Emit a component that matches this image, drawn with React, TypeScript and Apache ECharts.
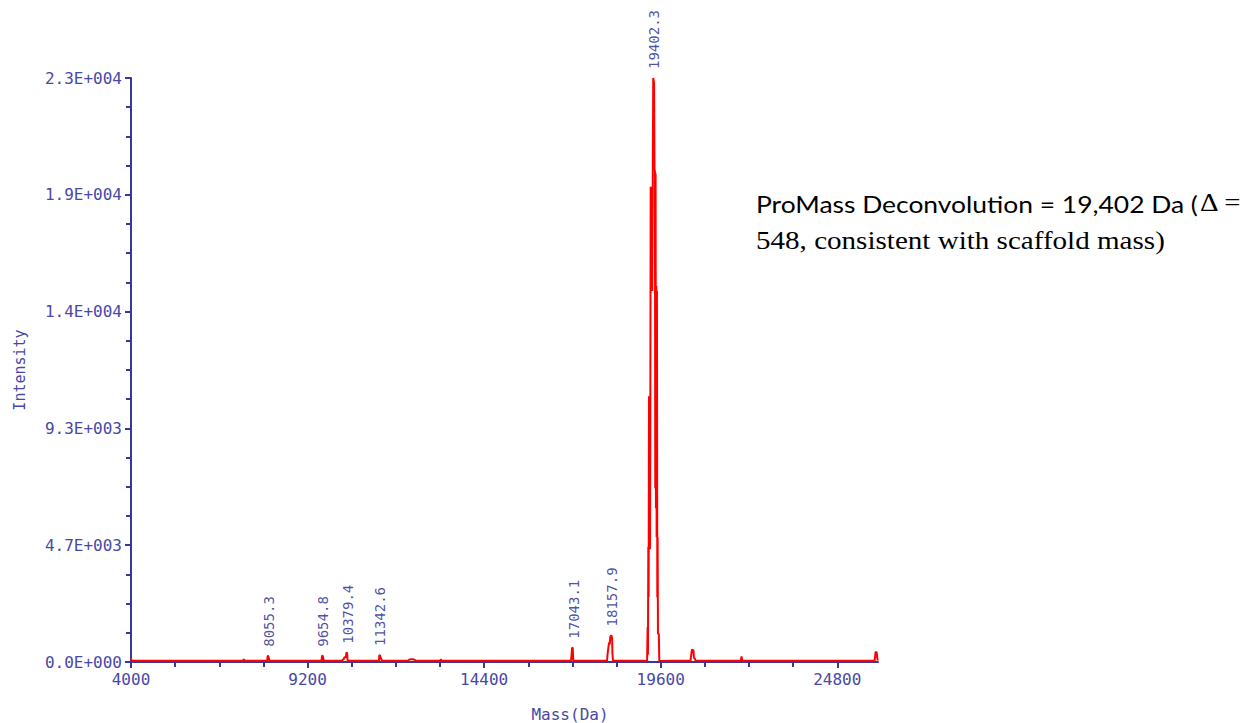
import React, { useEffect, useRef } from 'react';
import * as echarts from 'echarts';

// ---- data ----
const xTickLabels = [4000, 9200, 14400, 19600, 24800];
const xMinorStep = 1300;
const yMax = 23300;
const yInterval = 4660;

const lowMassProfile: [number, number][] = [
  [4000, 150], [4015, 50], [4400, 45], [5000, 50], [5600, 45], [6200, 50], [6800, 45],
  [7300, 50], [7320, 110], [7340, 50], [7800, 45],
  [8010, 50], [8025, 230], [8040, 250], [8060, 245], [8075, 60], [8090, 50],
  [8700, 45], [9300, 50],
  [9610, 50], [9625, 240], [9645, 250], [9660, 170], [9675, 50],
  [10200, 50], [10260, 110], [10290, 190], [10330, 200], [10345, 370], [10365, 360], [10380, 60], [10400, 50],
  [11000, 45],
  [11300, 50], [11315, 280], [11335, 260], [11360, 140], [11390, 60], [11410, 50],
  [12150, 50], [12200, 100], [12260, 110], [12320, 105], [12380, 60], [12420, 50],
  [13100, 50], [13130, 100], [13150, 50],
  [14000, 45], [15000, 50], [16000, 45],
  [16900, 50], [16960, 60], [16975, 280], [16990, 570], [17010, 560], [17025, 60], [17040, 50],
  [17800, 45],
  [18020, 50], [18035, 300], [18050, 470], [18065, 480], [18080, 780], [18100, 700], [18115, 1000],
  [18135, 1060], [18155, 1040], [18170, 900], [18180, 300], [18195, 60], [18210, 50],
  [18700, 45], [19100, 50],
];

const mainPeakProfile: [number, number][] = [
  [19150, 40], [19200, 60], [19215, 1400], [19225, 300], [19235, 4600], [19245, 2600],
  [19255, 10600], [19265, 9970], [19275, 10500], [19285, 4500], [19295, 10000],
  [19305, 18960], [19320, 18500], [19335, 18960], [19350, 14800], [19365, 18900],
  [19380, 23300], [19395, 23300], [19405, 23100], [19418, 19630], [19430, 19600],
  [19440, 6930], [19450, 19500], [19460, 6130], [19470, 15000], [19480, 4980],
  [19490, 14800], [19500, 2580], [19510, 4980], [19520, 1150], [19535, 1150],
  [19545, 1100], [19560, 40], [19600, 40],
];

const highMassProfile: [number, number][] = [
  [20000, 45], [20480, 50], [20500, 300], [20520, 490], [20545, 470], [20565, 480],
  [20580, 150], [20600, 160], [20625, 60], [20640, 50],
  [21300, 45], [21960, 50], [21980, 220], [22000, 50],
  [22800, 45], [23600, 50], [24400, 45], [25200, 50],
  [25900, 50], [25930, 400], [25960, 380], [25980, 150], [25995, 60], [26000, 50],
];

const peakLabelMasses = [8055.3, 9654.8, 10379.4, 11342.6, 17043.1, 18157.9, 19402.3];
const peakLabelIntensities = [250, 250, 370, 280, 570, 1060, 23300];

const annotationLine1 = 'ProMass Deconvolution = 19,402 Da (';
const annotationLine1Tail = 'Δ =';
const annotationLine2 = '548, consistent with scaffold mass)';

// ---- styles ----
const AXIS = '#38389c';
const LBL = '#4848a8';
const PEAK_LBL = '#22228c';
const MONO = '"DejaVu Sans Mono", monospace';

const fmtExp = (v: number) => {
  const [m, e] = v.toExponential(1).split('e');
  const n = parseInt(e, 10);
  return `${m}E${n < 0 ? '-' : '+'}${String(Math.abs(n)).padStart(3, '0')}`;
};

const measure = (text: string, font: string) => {
  const ctx = document.createElement('canvas').getContext('2d');
  if (!ctx) return 1;
  ctx.font = font;
  return ctx.measureText(text).width || 1;
};

export default function App() {
  const ref = useRef<HTMLDivElement>(null);

  useEffect(() => {
    if (!ref.current) return;
    const chart = echarts.init(ref.current, undefined, { renderer: 'svg' });

    const spectrum = [...lowMassProfile, ...mainPeakProfile, ...highMassProfile];
    const xMax = 26000;
    const minorX: number[] = [];
    xTickLabels.forEach((t) => {
      for (let k = 1; k < 4; k++) {
        const v = t + k * xMinorStep;
        if (v < xMax) minorX.push(v);
      }
    });

    const s1 = 442 / measure(annotationLine1, '24px Lato');
    const s1t = 42 / measure(annotationLine1Tail, '25px "Liberation Serif"');
    const s2 = 409 / measure(annotationLine2, '25px "Liberation Serif"');

    const option: any = {
      animation: false,
      backgroundColor: '#ffffff',
      grid: { left: 131, top: 78, width: 747, height: 584, containLabel: false },
      xAxis: [
        {
          type: 'value', min: 4000, max: xMax,
          axisLine: { show: true, lineStyle: { color: AXIS, width: 2 } },
          axisTick: { show: true, customValues: xTickLabels, length: 6, lineStyle: { color: AXIS, width: 2 } },
          axisLabel: {
            customValues: xTickLabels, formatter: (v: number) => String(v),
            color: LBL, fontFamily: MONO, fontSize: 16, margin: 9,
          },
          splitLine: { show: false },
        },
        {
          type: 'value', min: 4000, max: xMax, position: 'bottom',
          axisLine: { show: false },
          axisLabel: { show: false },
          axisTick: { show: true, customValues: minorX, length: 5, lineStyle: { color: AXIS, width: 2 } },
          splitLine: { show: false },
        },
      ],
      yAxis: {
        type: 'value', min: 0, max: yMax, interval: yInterval,
        axisLine: { show: true, lineStyle: { color: AXIS, width: 2 } },
        axisTick: { show: true, length: 6, lineStyle: { color: AXIS, width: 2 } },
        minorTick: { show: true, splitNumber: 4, length: 5, lineStyle: { color: AXIS, width: 2 } },
        axisLabel: { formatter: fmtExp, color: LBL, fontFamily: MONO, fontSize: 16, margin: 9 },
        splitLine: { show: false },
        name: 'Intensity', nameLocation: 'middle', nameGap: 104,
        nameTextStyle: { color: LBL, fontFamily: MONO, fontSize: 15 },
      },
      series: [
        {
          type: 'line', data: spectrum, symbol: 'none', silent: true, z: 3,
          lineStyle: { color: '#ff0000', width: 2 },
        },
        {
          type: 'scatter', symbolSize: 0, silent: true, z: 4,
          itemStyle: { color: 'transparent' },
          data: peakLabelMasses.map((m, i) => ({ value: [m, peakLabelIntensities[i]], name: m.toFixed(1) })),
          label: {
            show: true, formatter: '{b}', position: 'top', distance: 9, rotate: 90,
            align: 'left', verticalAlign: 'middle',
            color: PEAK_LBL, fontFamily: MONO, fontSize: 14,
          },
        },
      ],
      graphic: [
        {
          type: 'text', x: 570, y: 714,
          style: { text: 'Mass(Da)', fill: LBL, font: `16px ${MONO}`, align: 'center', verticalAlign: 'middle' },
        },
        {
          type: 'text', x: 756, y: 203, scaleX: s1,
          style: { text: annotationLine1, fill: '#000', font: '24px Lato', align: 'left', verticalAlign: 'middle' },
        },
        {
          type: 'text', x: 1200, y: 203, scaleX: s1t,
          style: { text: annotationLine1Tail, fill: '#000', font: '25px "Liberation Serif"', align: 'left', verticalAlign: 'middle' },
        },
        {
          type: 'text', x: 756, y: 241, scaleX: s2,
          style: { text: annotationLine2, fill: '#000', font: '25px "Liberation Serif"', align: 'left', verticalAlign: 'middle' },
        },
      ],
    };

    chart.setOption(option);
    return () => chart.dispose();
  }, []);

  return (
    <div
      ref={ref}
      style={{ position: 'fixed', left: 0, top: 0, width: 1249, height: 723, background: '#fff' }}
    />
  );
}
